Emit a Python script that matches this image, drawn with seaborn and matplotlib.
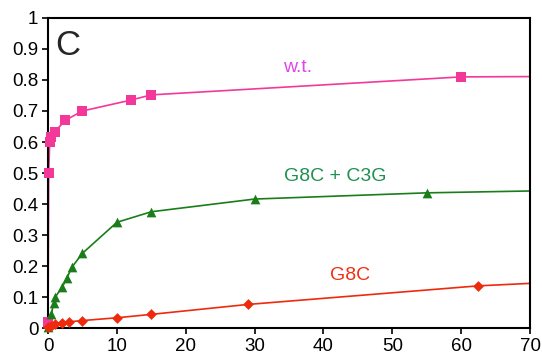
import matplotlib
matplotlib.use("Agg")
import matplotlib.pyplot as plt
import numpy as np
import pandas as pd
import seaborn as sns

wt_x = [0, 0.1, 0.25, 0.5, 1, 2.5, 5, 12, 15, 60]
wt_y = [0.02, 0.50, 0.60, 0.615, 0.633, 0.67, 0.70, 0.735, 0.752, 0.81]

dbl_x = [0, 0.5, 0.8, 1.05, 2.1, 2.75, 3.5, 5, 10, 15, 30, 55]
dbl_y = [0.004, 0.045, 0.08, 0.10, 0.133, 0.162, 0.197, 0.241, 0.341, 0.375, 0.416, 0.436]

g8c_x = [0, 0.5, 1, 2, 3, 5, 10, 15, 29, 62.5]
g8c_y = [0.003, 0.008, 0.013, 0.017, 0.02, 0.024, 0.033, 0.044, 0.076, 0.136]

# where the drawn curves end at the right edge (no marker there)
end_x = 70
wt_end = 0.811
dbl_end = 0.442
g8c_end = 0.144

x_ticks = [0, 10, 20, 30, 40, 50, 60, 70]
y_ticks = [0, 0.1, 0.2, 0.3, 0.4, 0.5, 0.6, 0.7, 0.8, 0.9, 1]
y_tick_labels = ["0", "0.1", "0.2", "0.3", "0.4", "0.5", "0.6", "0.7", "0.8", "0.9", "1"]


def main() -> None:
    sns.set_theme(style="ticks")
    plt.rcParams["font.family"] = ["Liberation Sans", "DejaVu Sans"]

    fig = plt.figure(figsize=(5.42, 3.57), dpi=100)
    ax = fig.add_axes([0.0886, 0.0812, 0.8894, 0.8684])

    series = [
        (wt_x, wt_y, wt_end, "#f2399a", "s", 7),
        (dbl_x, dbl_y, dbl_end, "#1a7d1a", "^", 7),
        (g8c_x, g8c_y, g8c_end, "#ee2a0c", "D", 5.5),
    ]
    for xs, ys, y_end, color, marker, ms in series:
        line = pd.DataFrame({"x": xs + [end_x], "y": ys + [y_end]})
        sns.lineplot(data=line, x="x", y="y", color=color, lw=1.2, sort=False,
                     ax=ax, clip_on=False, zorder=2)
        pts = pd.DataFrame({"x": xs, "y": ys})
        sns.scatterplot(data=pts, x="x", y="y", color=color, marker=marker,
                        s=ms ** 2, edgecolor=color, linewidth=0, ax=ax,
                        clip_on=False, zorder=3)

    ax.text(36.3, 0.84, "w.t.", color="#e444ec", fontsize=14, ha="center", va="center")
    ax.text(41.7, 0.49, "G8C + C3G", color="#1e9050", fontsize=14, ha="center", va="center")
    ax.text(43.8, 0.17, "G8C", color="#f0300f", fontsize=14, ha="center", va="center")
    ax.text(0.015, 0.965, "C", transform=ax.transAxes, fontsize=25, ha="left", va="top")

    ax.set_xlim(0, 70)
    ax.set_ylim(0, 1)
    ax.set_xticks(x_ticks)
    ax.set_yticks(y_ticks)
    ax.set_yticklabels(y_tick_labels)
    ax.set_xlabel("")
    ax.set_ylabel("")
    ax.tick_params(direction="out", length=4, width=1.2, labelsize=13.5, colors="black", pad=3)
    for side in ["top", "right", "bottom", "left"]:
        ax.spines[side].set_visible(True)
        ax.spines[side].set_linewidth(1.5)
        ax.spines[side].set_color("black")

    fig.savefig("out.png", dpi=100)


if __name__ == "__main__":
    main()
